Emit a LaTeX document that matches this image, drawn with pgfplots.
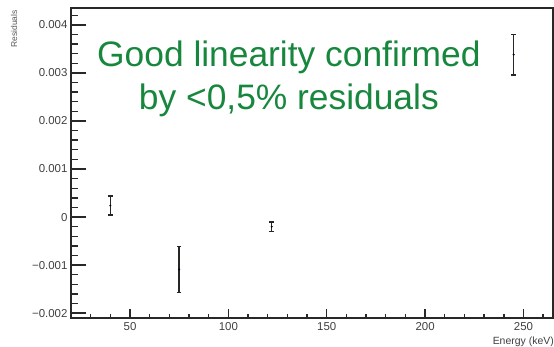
\documentclass[border=0pt]{standalone}
\usepackage{fontspec}
\setmainfont{Liberation Sans}
\usepackage{pgfplots}
\pgfplotsset{compat=1.18}
\definecolor{notegreen}{RGB}{24,135,62}
\definecolor{axisgray}{RGB}{40,40,40}

\pgfplotsset{
  residual frame/.style={
    scale only axis,
    width=482bp, height=310bp,
    xmin=20, xmax=265,
    ymin=-0.0021, ymax=0.00435,
    axis line style={axisgray, line width=1.3bp},
    tick align=inside,
    tick pos=left,
    major tick style={axisgray, line width=1.4bp},
    minor tick style={axisgray, line width=1.4bp},
    scaled y ticks=false,
    /pgf/number format/assume math mode=true,
    ticklabel style={font=\fontsize{11.5}{12}\selectfont, text=black!75},
    clip=false,
  },
}

\begin{document}
\begin{tikzpicture}
% energy axis ticks (shorter ones)
\begin{axis}[
  residual frame,
  major tick length=9bp, minor tick length=4.5bp,
  xtick={0,50,100,150,200,250,300},
  xticklabels={,50,100,150,200,250,},
  minor x tick num=4,
  ytick=\empty,
  xticklabel style={yshift=-1bp},
]
\end{axis}

% residual axis and data
\begin{axis}[
  residual frame,
  major tick length=15bp, minor tick length=6.5bp,
  xtick=\empty,
  ytick={-0.003,-0.002,-0.001,0,0.001,0.002,0.003,0.004,0.005},
  yticklabels={,−0.002,−0.001,0,0.001,0.002,0.003,0.004,},
  minor y tick num=4,
]
% residuals with their uncertainties
\addplot+[only marks, black, mark=*, mark size=0.8bp,
  error bars/.cd, y dir=both, y explicit,
  error bar style={line width=1.6bp, black!85},
  error mark options={rotate=90, mark size=2.2bp, line width=1.5bp, black!85}]
  coordinates {
    (40,0.00024)   +- (0,0.00020)
    (75,-0.00109)  +- (0,0.00048)
    (122,-0.00020) +- (0,0.00010)
    (245,0.00338)  +- (0,0.00042)
  };

\coordinate (tl) at (rel axis cs:0,1);
\coordinate (br) at (rel axis cs:1,0);
\node[rotate=90, anchor=east, font=\fontsize{8.5}{9}\selectfont, text=black!65, inner sep=0pt]
  at ([xshift=-57bp, yshift=-2bp]tl) {Residuals};
\node[anchor=north east, font=\fontsize{10.5}{11}\selectfont, text=black!75, inner sep=0pt]
  at ([yshift=-19bp, xshift=1bp]br) {Energy (keV)};
\node[text=notegreen, font=\fontsize{35.5}{43}\selectfont, inner sep=0pt, anchor=base]
  at (rel axis cs:0.452,0.8106) {Good linearity confirmed};
\node[text=notegreen, font=\fontsize{35.5}{43}\selectfont, inner sep=0pt, anchor=base]
  at (rel axis cs:0.452,0.671) {by <0,5\% residuals};

% page frame
\path (rel axis cs:0,0) ++(-71bp,-26bp) coordinate (bbll);
\path (rel axis cs:1,1) ++(1bp,8bp) coordinate (bbur);
\useasboundingbox (bbll) rectangle (bbur);
\end{axis}
\end{tikzpicture}
\end{document}
